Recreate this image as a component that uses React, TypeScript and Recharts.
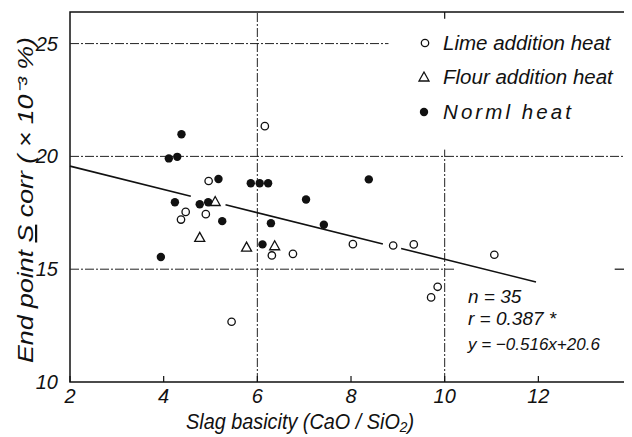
import { ScatterChart, Scatter, XAxis, YAxis, ReferenceLine, ReferenceArea } from 'recharts';

// Readings taken off the figure (x = CaO/SiO2, y = end point S corr, x10^-3 %)
const limeHeat = [
  { x: 6.16, y: 21.34 },
  { x: 4.96, y: 18.91 },
  { x: 4.37, y: 17.2 },
  { x: 4.47, y: 17.54 },
  { x: 4.9, y: 17.44 },
  { x: 6.31, y: 15.61 },
  { x: 6.76, y: 15.68 },
  { x: 8.04, y: 16.11 },
  { x: 8.9, y: 16.05 },
  { x: 9.34, y: 16.1 },
  { x: 11.06, y: 15.64 },
  { x: 9.71, y: 13.75 },
  { x: 9.85, y: 14.22 },
  { x: 5.45, y: 12.67 },
];

const flourHeat = [
  { x: 5.1, y: 18.0 },
  { x: 4.77, y: 16.41 },
  { x: 5.77, y: 15.98 },
  { x: 6.37, y: 16.04 },
];

const normalHeat = [
  { x: 4.38, y: 20.98 },
  { x: 4.11, y: 19.91 },
  { x: 4.29, y: 19.98 },
  { x: 4.24, y: 17.97 },
  { x: 4.77, y: 17.88 },
  { x: 4.95, y: 17.97 },
  { x: 5.17, y: 19.0 },
  { x: 5.25, y: 17.13 },
  { x: 5.86, y: 18.81 },
  { x: 6.05, y: 18.81 },
  { x: 6.23, y: 18.81 },
  { x: 6.29, y: 17.04 },
  { x: 6.11, y: 16.1 },
  { x: 7.04, y: 18.09 },
  { x: 7.42, y: 16.97 },
  { x: 8.38, y: 18.98 },
  { x: 3.94, y: 15.54 },
];

// regression y = -0.516x + 20.6, drawn with the breaks seen in the figure
const fitSlope = -0.516;
const fitIntercept = 20.6;
const fitPieces = [
  [2, 4.58],
  [5.32, 8.68],
  [9.07, 11.95],
];

const xTicks = [2, 4, 6, 8, 10, 12];
const yTicks = [10, 15, 20, 25];

const X_MIN = 2;
const X_MAX = 13.85;
const Y_MIN = 10;
const Y_MAX = 26.4;

const W = 624;
const H = 429;
const font = "'Liberation Sans', Arial, sans-serif";
const ink = '#111';

const OpenDot = (p: any) => (
  <circle cx={p.cx} cy={p.cy} r={3.7} fill="#fff" stroke={ink} strokeWidth={1.3} />
);
const FilledDot = (p: any) => <circle cx={p.cx} cy={p.cy} r={4.2} fill={ink} />;
const Tri = (p: any) => {
  const s = 5;
  const pts = `${p.cx},${p.cy - s} ${p.cx - s},${p.cy + s * 0.8} ${p.cx + s},${p.cy + s * 0.8}`;
  return <polygon points={pts} fill="#fff" stroke={ink} strokeWidth={1.3} />;
};

const gridDash = '9 2 2 2';
const gridColor = '#222';

export default function App() {
  const txt = { fontFamily: font, fontStyle: 'italic', fill: ink } as const;
  const tickStyle = { fontSize: 20, fontFamily: font, fontStyle: 'italic', fill: ink };
  return (
    <div style={{ position: 'relative', width: W, height: H }}>
      <ScatterChart width={W} height={H} margin={{ top: 4, right: 7, left: 0, bottom: 0 }}>
        <XAxis
          type="number"
          dataKey="x"
          domain={[X_MIN, X_MAX]}
          ticks={xTicks}
          allowDataOverflow
          axisLine={false}
          tickLine={{ stroke: ink, strokeWidth: 1.2 }}
          tickSize={-6}
          tickMargin={13}
          height={55}
          tick={tickStyle}
        />
        <YAxis
          type="number"
          dataKey="y"
          domain={[Y_MIN, Y_MAX]}
          ticks={yTicks}
          allowDataOverflow
          axisLine={false}
          tickLine={false}
          tickMargin={6}
          width={62}
          tick={tickStyle}
        />

        {/* partial grid lines as drawn in the original */}
        <ReferenceLine segment={[{ x: X_MIN, y: 25 }, { x: 8.8, y: 25 }]} stroke={gridColor} strokeDasharray={gridDash} />
        <ReferenceLine segment={[{ x: X_MIN, y: 20 }, { x: X_MAX, y: 20 }]} stroke={gridColor} strokeDasharray={gridDash} />
        <ReferenceLine segment={[{ x: X_MIN, y: 15 }, { x: 10.24, y: 15 }]} stroke={gridColor} strokeDasharray={gridDash} />
        <ReferenceLine segment={[{ x: 6, y: Y_MIN }, { x: 6, y: Y_MAX }]} stroke={gridColor} strokeDasharray={gridDash} />
        <ReferenceLine segment={[{ x: 10, y: Y_MIN }, { x: 10, y: 20.3 }]} stroke={gridColor} strokeDasharray={gridDash} />
        {/* small inward ticks on the top and right frame */}
        <ReferenceLine segment={[{ x: 10, y: Y_MAX }, { x: 10, y: 26.1 }]} stroke={ink} strokeWidth={1.2} />
        <ReferenceLine segment={[{ x: 13.63, y: 15 }, { x: X_MAX, y: 15 }]} stroke={ink} strokeWidth={1.2} />

        <ReferenceArea x1={X_MIN} x2={X_MAX} y1={Y_MIN} y2={Y_MAX} fill="none" fillOpacity={0} stroke={ink} strokeWidth={1.5} />

        {fitPieces.map(([a, b], i) => (
          <ReferenceLine
            key={i}
            segment={[
              { x: a, y: fitSlope * a + fitIntercept },
              { x: b, y: fitSlope * b + fitIntercept },
            ]}
            stroke={ink}
            strokeWidth={1.6}
          />
        ))}

        <Scatter name="Lime addition heat" data={limeHeat} shape={OpenDot} isAnimationActive={false} />
        <Scatter name="Flour addition heat" data={flourHeat} shape={Tri} isAnimationActive={false} />
        <Scatter name="Norml heat" data={normalHeat} shape={FilledDot} isAnimationActive={false} />
      </ScatterChart>

      <svg width={W} height={H} style={{ position: 'absolute', left: 0, top: 0, pointerEvents: 'none' }}>
        {/* legend */}
        <circle cx={417} cy={35} r={3.7} fill="#fff" stroke={ink} strokeWidth={1.3} />
        <polygon points="416,64 411,73 421,73" fill="#fff" stroke={ink} strokeWidth={1.3} />
        <circle cx={416} cy={104} r={4.2} fill={ink} />
        <text x={435} y={42} fontSize={20.5} {...txt}>Lime addition heat</text>
        <text x={435} y={76} fontSize={20.5} {...txt}>Flour addition heat</text>
        <text x={435} y={111} fontSize={20.5} textLength={128} lengthAdjust="spacing" {...txt}>Norml heat</text>

        {/* statistics */}
        <text x={460} y={295} fontSize={19} {...txt}>n = 35</text>
        <text x={460} y={317} fontSize={19} {...txt}>r = 0.387 *</text>
        <text x={460} y={342} fontSize={17} {...txt}>y = −0.516x+20.6</text>

        {/* axis titles */}
        <text x={292} y={421} fontSize={22} textAnchor="middle" textLength={228} lengthAdjust="spacingAndGlyphs" {...txt}>
          Slag basicity (CaO / SiO₂)
        </text>
        <text
          x={0}
          y={0}
          fontSize={22}
          textAnchor="middle"
          textLength={326}
          lengthAdjust="spacingAndGlyphs"
          transform="translate(25,192) rotate(-90)"
          {...txt}
        >
          End point <tspan textDecoration="underline">S</tspan> corr ( × 10⁻³ %)
        </text>
      </svg>
    </div>
  );
}
